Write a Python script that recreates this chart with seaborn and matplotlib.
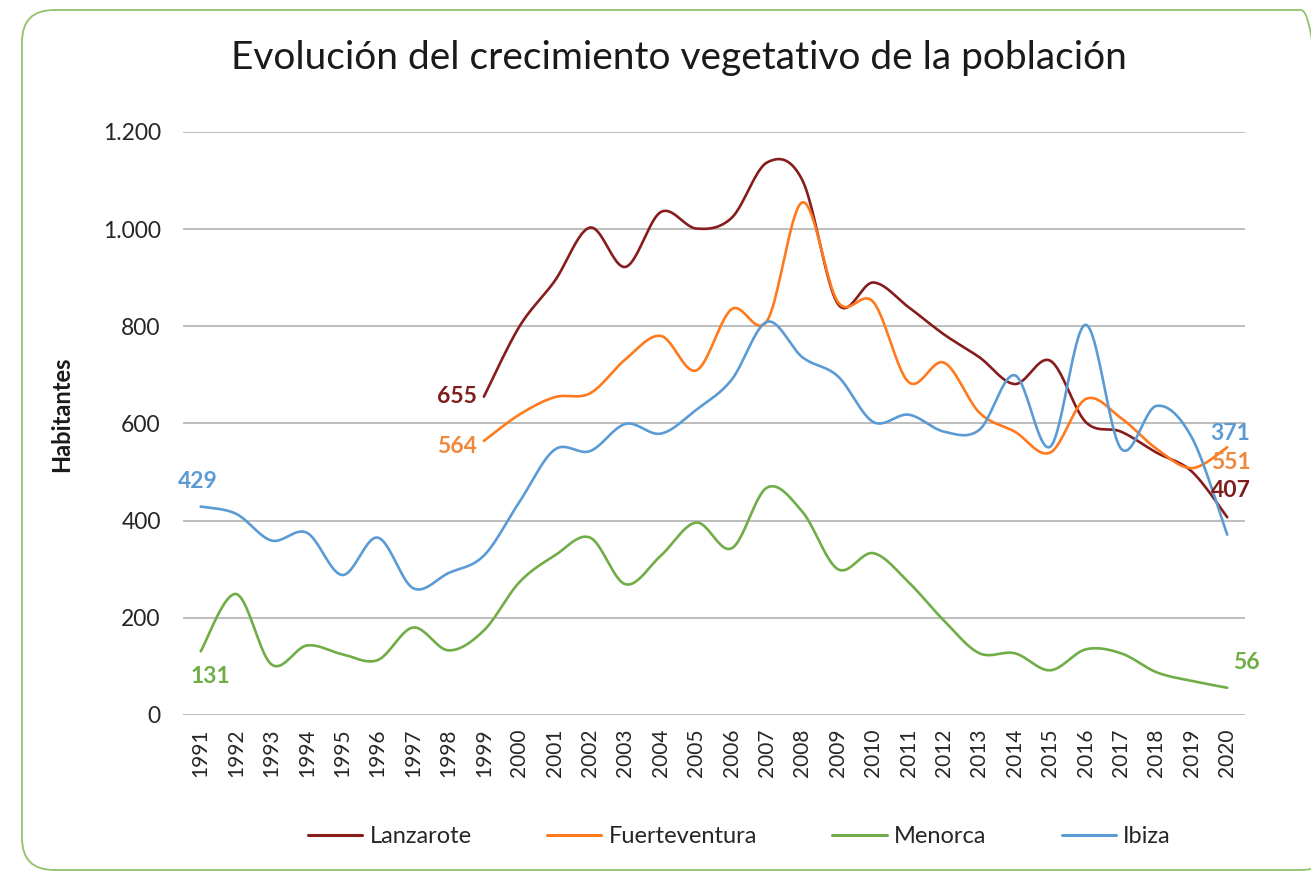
import numpy as np
import pandas as pd
import seaborn as sns
import matplotlib.pyplot as plt
from matplotlib.patches import FancyBboxPatch
from matplotlib.transforms import IdentityTransform
from matplotlib.ticker import FuncFormatter

# datos (habitantes)
years = list(range(1991, 2021))
years_canarias = list(range(1999, 2021))

lanzarote = [655, 799, 893, 1003, 922, 1035, 1001, 1023, 1137, 1100, 846,
             890, 839, 783, 736, 681, 729, 603, 583, 540, 501, 407]
fuerteventura = [564, 618, 654, 662, 732, 780, 709, 835, 811, 1055, 850,
                 850, 685, 725, 622, 583, 540, 650, 611, 548, 508, 551]
menorca = [131, 249, 104, 143, 125, 113, 180, 133, 174, 273, 328, 365, 269,
           328, 396, 343, 468, 418, 300, 333, 273, 194, 127, 127, 92, 135,
           127, 88, 70, 56]
ibiza = [429, 414, 359, 375, 288, 365, 261, 292, 328, 438, 546, 543, 599,
         579, 628, 690, 809, 736, 697, 603, 618, 583, 587, 699, 552, 803,
         548, 636, 571, 371]

islas = ['Lanzarote', 'Fuerteventura', 'Menorca', 'Ibiza']
colores = {'Lanzarote': '#861c1c', 'Fuerteventura': '#ff7a1c',
           'Menorca': '#70ad47', 'Ibiza': '#5b9bd5'}


def suavizar(xs, ys, n=24):
    # curva tipo Excel (Catmull-Rom) solo para el trazado
    xs = np.asarray(xs, float)
    ys = np.asarray(ys, float)
    px, py = [], []
    m = len(xs)
    for i in range(m - 1):
        i0, i3 = max(i - 1, 0), min(i + 2, m - 1)
        for t in np.linspace(0, 1, n, endpoint=False):
            t2, t3 = t * t, t * t * t
            def cr(p0, p1, p2, p3):
                return 0.5 * (2 * p1 + (-p0 + p2) * t + (2 * p0 - 5 * p1 + 4 * p2 - p3) * t2
                              + (-p0 + 3 * p1 - 3 * p2 + p3) * t3)
            px.append(cr(xs[i0], xs[i], xs[i + 1], xs[i3]))
            py.append(cr(ys[i0], ys[i], ys[i + 1], ys[i3]))
    px.append(xs[-1])
    py.append(ys[-1])
    return px, py


series = {'Lanzarote': (years_canarias, lanzarote),
          'Fuerteventura': (years_canarias, fuerteventura),
          'Menorca': (years, menorca),
          'Ibiza': (years, ibiza)}

partes = []
for isla in islas:
    sx, sy = suavizar(*series[isla])
    partes.append(pd.DataFrame({'anio': sx, 'hab': sy, 'isla': isla}))
df = pd.concat(partes, ignore_index=True)

sns.set_theme(style='white')
plt.rcParams['font.family'] = ['Lato', 'DejaVu Sans']

fig = plt.figure(figsize=(13.11, 8.73), dpi=100)
ax = fig.add_axes([0.1396, 0.181, 0.810, 0.668])

sns.lineplot(data=df, x='anio', y='hab', hue='isla', hue_order=islas,
             palette=colores, sort=False, estimator=None, linewidth=1.9, ax=ax)

ax.set_xlim(1990.5, 2020.5)
ax.set_ylim(0, 1200)
ax.set_yticks(range(0, 1201, 200))
ax.yaxis.set_major_formatter(FuncFormatter(lambda v, p: f'{int(v):,}'.replace(',', '.')))
ax.set_xticks(years)
ax.set_xticklabels([str(y) for y in years], rotation=90)
ax.tick_params(axis='x', labelsize=15, pad=10, length=0, colors='#262626')
ax.tick_params(axis='y', labelsize=16.5, pad=16, length=0, colors='#262626')
ax.grid(axis='y', color='#bdbdbd', linewidth=1.4)
ax.set_axisbelow(True)
for s in ax.spines.values():
    s.set_visible(False)

ax.set_xlabel('')
ax.set_ylabel('Habitantes', fontsize=17, fontweight='bold', color='#1a1a1a')
ax.yaxis.set_label_coords(-0.1036, 0.515)

# etiquetas de datos
etiquetas = [
    (1999, 655, '655', '#7f1d1d', (-5, 0), 'right', 'center'),
    (1999, 564, '564', '#f0883c', (-5, -4), 'right', 'center'),
    (1991, 429, '429', '#5b9bd5', (-2, 18), 'center', 'center'),
    (1991, 131, '131', '#70ad47', (7, -18), 'center', 'center'),
    (2020, 371, '371', '#5b9bd5', (-12, 73), 'left', 'center'),
    (2020, 551, '551', '#f0883c', (-12, -11), 'left', 'center'),
    (2020, 407, '407', '#7f1d1d', (-12, 19), 'left', 'center'),
    (2020, 56, '56', '#70ad47', (4, 18), 'left', 'center'),
]
for x, y, txt, c, off, ha, va in etiquetas:
    ax.annotate(txt, (x, y), xytext=off, textcoords='offset points',
                ha=ha, va=va, fontsize=16.5, fontweight='bold', color=c)

leg = ax.legend(loc='center', bbox_to_anchor=(0.524, -0.209), ncol=4, frameon=False,
                fontsize=17, handlelength=2.3, handletextpad=0.3, columnspacing=3.2)
for h in leg.get_lines():
    h.set_linewidth(2.2)

fig.text(0.518, 0.934, 'Evolución del crecimiento vegetativo de la población',
         ha='center', va='center', fontsize=28, color='#1a1a1a')

marco = FancyBboxPatch((22, 3), 1311, 860, boxstyle='round,pad=0,rounding_size=32',
                       transform=IdentityTransform(), fill=False,
                       edgecolor='#8fc46a', linewidth=1.3)
fig.add_artist(marco)

fig.savefig('out.png', dpi=100)
